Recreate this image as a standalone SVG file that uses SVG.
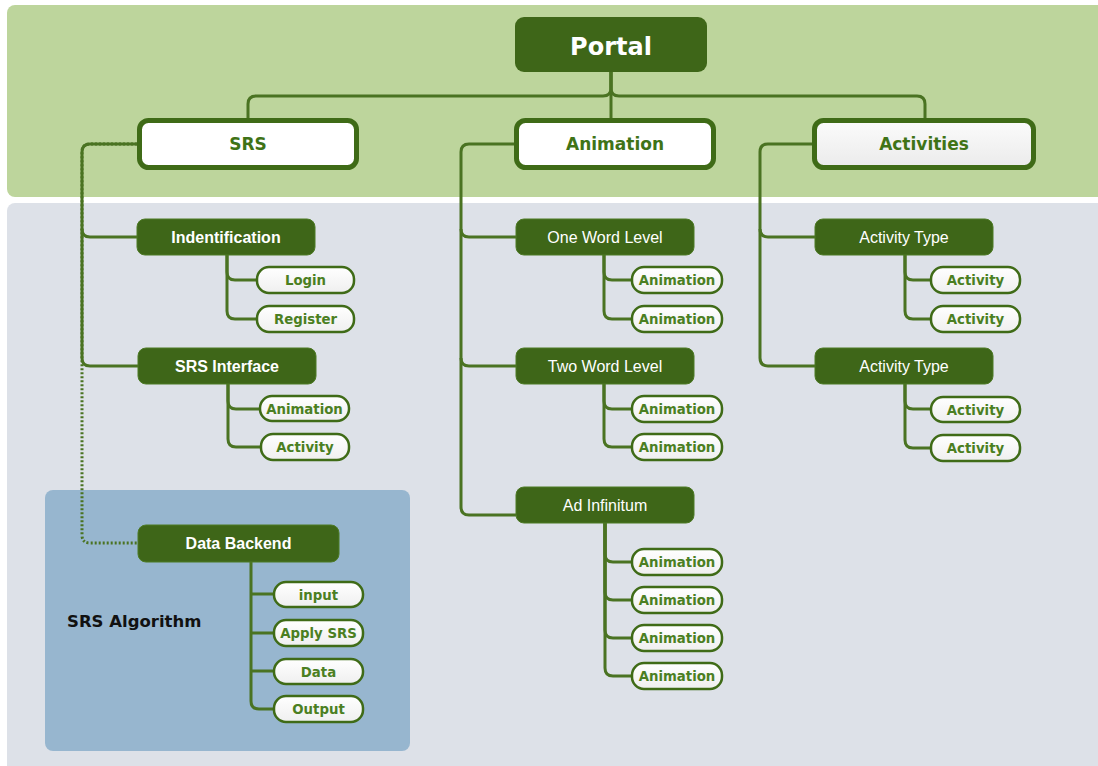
<svg xmlns="http://www.w3.org/2000/svg" width="1098" height="766" viewBox="0 0 1098 766">
  <defs>
    <linearGradient id="pillFill" x1="0" y1="0" x2="0" y2="1">
      <stop offset="0" stop-color="#ffffff"/>
      <stop offset="1" stop-color="#efefef"/>
    </linearGradient>
    <linearGradient id="greyFill" x1="0" y1="0" x2="0" y2="1">
      <stop offset="0" stop-color="#fbfbfb"/>
      <stop offset="1" stop-color="#ebebeb"/>
    </linearGradient>
    <style>
      .band-top { fill: #bdd59c; }
      .band-bottom { fill: #dde1e8; }
      .algo { fill: #97b6cf; }
      .root { fill: #3e6618; }
      .root-text { font-family: "DejaVu Sans", Verdana, sans-serif; font-weight: bold; font-size: 24px; fill: #ffffff; text-anchor: middle; }
      .branch { fill: #ffffff; stroke: #3f6b17; stroke-width: 5; }
      .branch-text { font-family: "DejaVu Sans", Verdana, sans-serif; font-weight: bold; font-size: 17px; fill: #3f7317; text-anchor: middle; }
      .topic { fill: #3e6618; stroke: #4d7a25; stroke-width: 1; }
      .topic-text { font-family: "Liberation Sans", Arial, sans-serif; font-size: 16px; fill: #ffffff; text-anchor: middle; }
      .bold { font-weight: bold; }
      .leaf { fill: url(#pillFill); stroke: #3f6b17; stroke-width: 2.5; }
      .leaf-text { font-family: "DejaVu Sans", Verdana, sans-serif; font-weight: bold; font-size: 13.3px; fill: #4b7f22; text-anchor: middle; }
      .label { font-family: "DejaVu Sans", Verdana, sans-serif; font-weight: bold; font-size: 16.5px; fill: #111111; }
      .link { fill: none; stroke: #4a7322; stroke-width: 3; }
      .link-dot { fill: none; stroke: #4a7322; stroke-width: 3; stroke-dasharray: 2 2; }
    </style>
  </defs>

  <!-- background bands -->
  <rect x="0" y="0" width="1098" height="766" fill="#ffffff"/>
  <rect class="band-top" x="7" y="5" width="1100" height="192" rx="8"/>
  <rect class="band-bottom" x="7" y="203" width="1100" height="570" rx="8"/>
  <rect class="algo" x="45" y="490" width="365" height="261" rx="8"/>
  <text class="label" x="67" y="627">SRS Algorithm</text>

  <!-- connectors -->
  <g id="connectors">
    <!-- Portal to the three branches -->
    <path class="link" d="M611,72 V88 Q611,96 603,96 H256 Q248,96 248,104 V118"/>
    <path class="link" d="M611,72 V88 Q611,96 619,96 H917 Q925,96 925,104 V118"/>
    <path class="link" d="M611,72 V118"/>

    <!-- SRS -->
    <path class="link-dot" d="M137,144 H90 Q82,144 82,152 V535 Q82,543 90,543 H138"/>
    <path class="link" d="M137,144 H90 Q82,144 82,152 V358 Q82,366 90,366 H138"/>
    <path class="link" d="M82,229 Q82,237 90,237 H137"/>
    <path class="link" d="M227,255 V272 Q227,280 235,280 H257"/>
    <path class="link" d="M227,255 V311 Q227,319 235,319 H257"/>
    <path class="link" d="M228,384 V401 Q228,409 236,409 H260"/>
    <path class="link" d="M228,384 V439 Q228,447 236,447 H261"/>

    <!-- Data Backend -->
    <path class="link" d="M251,562 V701 Q251,709 259,709 H274"/>
    <path class="link" d="M251,594 H274 M251,633 H274 M251,671 H274"/>

    <!-- Animation -->
    <path class="link" d="M514,144 H469 Q461,144 461,152 V507 Q461,515 469,515 H516"/>
    <path class="link" d="M461,229 Q461,237 469,237 H516"/>
    <path class="link" d="M461,358 Q461,366 469,366 H516"/>
    <path class="link" d="M604,255 V272 Q604,280 612,280 H632"/>
    <path class="link" d="M604,255 V311 Q604,319 612,319 H632"/>
    <path class="link" d="M604,384 V401 Q604,409 612,409 H632"/>
    <path class="link" d="M604,384 V439 Q604,447 612,447 H632"/>
    <path class="link" d="M605,523 V554 Q605,562 613,562 H632"/>
    <path class="link" d="M605,523 V592 Q605,600 613,600 H632"/>
    <path class="link" d="M605,523 V630 Q605,638 613,638 H632"/>
    <path class="link" d="M605,523 V668 Q605,676 613,676 H632"/>

    <!-- Activities -->
    <path class="link" d="M812,144 H768 Q760,144 760,152 V358 Q760,366 768,366 H815"/>
    <path class="link" d="M760,229 Q760,237 768,237 H815"/>
    <path class="link" d="M905,255 V272 Q905,280 913,280 H931"/>
    <path class="link" d="M905,255 V311 Q905,319 913,319 H931"/>
    <path class="link" d="M905,384 V401 Q905,409 913,409 H931"/>
    <path class="link" d="M905,384 V440 Q905,448 913,448 H931"/>
  </g>

  <!-- root -->
  <g id="portal">
    <rect class="root" x="515" y="17" width="192" height="55" rx="9"/>
    <text class="root-text" x="611" y="55">Portal</text>
  </g>

  <!-- main branches -->
  <g id="srs">
    <rect class="branch" x="139.5" y="120.5" width="217" height="47" rx="9"/>
    <text class="branch-text" x="248" y="150">SRS</text>
  </g>
  <g id="animation">
    <rect class="branch" x="516.5" y="120.5" width="197" height="47" rx="9"/>
    <text class="branch-text" x="615" y="150">Animation</text>
  </g>
  <g id="activities">
    <rect class="branch" x="814.5" y="120.5" width="219" height="47" rx="9" style="fill:url(#greyFill)"/>
    <text class="branch-text" x="924" y="150">Activities</text>
  </g>

  <!-- SRS topics -->
  <g id="indentification">
    <rect class="topic" x="137" y="219" width="178" height="36" rx="8"/>
    <text class="topic-text bold" x="226" y="242.5">Indentification</text>
  </g>
  <g id="login">
    <rect class="leaf" x="257" y="267" width="97" height="26" rx="12"/>
    <text class="leaf-text" x="305.5" y="285">Login</text>
  </g>
  <g id="register">
    <rect class="leaf" x="257" y="306" width="97" height="26" rx="12"/>
    <text class="leaf-text" x="305.5" y="324">Register</text>
  </g>
  <g id="srs-interface">
    <rect class="topic" x="138" y="348" width="178" height="36" rx="8"/>
    <text class="topic-text bold" x="227" y="371.5">SRS Interface</text>
  </g>
  <g id="srs-animation">
    <rect class="leaf" x="260" y="396" width="89" height="25" rx="12"/>
    <text class="leaf-text" x="304.5" y="413.5">Animation</text>
  </g>
  <g id="srs-activity">
    <rect class="leaf" x="261" y="434" width="88" height="26" rx="12"/>
    <text class="leaf-text" x="305" y="452">Activity</text>
  </g>

  <!-- SRS algorithm -->
  <g id="data-backend">
    <rect class="topic" x="138" y="525" width="201" height="37" rx="8"/>
    <text class="topic-text bold" x="238.5" y="549">Data Backend</text>
  </g>
  <g id="input">
    <rect class="leaf" x="274" y="582" width="89" height="25" rx="12"/>
    <text class="leaf-text" x="318.5" y="599.5">input</text>
  </g>
  <g id="apply-srs">
    <rect class="leaf" x="274" y="620" width="89" height="26" rx="12"/>
    <text class="leaf-text" x="318.5" y="638">Apply SRS</text>
  </g>
  <g id="data">
    <rect class="leaf" x="274" y="659" width="89" height="25" rx="12"/>
    <text class="leaf-text" x="318.5" y="676.5">Data</text>
  </g>
  <g id="output">
    <rect class="leaf" x="274" y="696" width="89" height="26" rx="12"/>
    <text class="leaf-text" x="318.5" y="714">Output</text>
  </g>

  <!-- Animation topics -->
  <g id="one-word-level">
    <rect class="topic" x="516" y="219" width="178" height="36" rx="8"/>
    <text class="topic-text" x="605" y="242.5">One Word Level</text>
  </g>
  <g id="one-word-animation-1">
    <rect class="leaf" x="632" y="267" width="90" height="26" rx="12"/>
    <text class="leaf-text" x="677" y="285">Animation</text>
  </g>
  <g id="one-word-animation-2">
    <rect class="leaf" x="632" y="306" width="90" height="26" rx="12"/>
    <text class="leaf-text" x="677" y="324">Animation</text>
  </g>
  <g id="two-word-level">
    <rect class="topic" x="516" y="348" width="178" height="36" rx="8"/>
    <text class="topic-text" x="605" y="371.5">Two Word Level</text>
  </g>
  <g id="two-word-animation-1">
    <rect class="leaf" x="632" y="396" width="90" height="26" rx="12"/>
    <text class="leaf-text" x="677" y="414">Animation</text>
  </g>
  <g id="two-word-animation-2">
    <rect class="leaf" x="632" y="434" width="90" height="26" rx="12"/>
    <text class="leaf-text" x="677" y="452">Animation</text>
  </g>
  <g id="ad-infinitum">
    <rect class="topic" x="516" y="487" width="178" height="36" rx="8"/>
    <text class="topic-text" x="605" y="510.5">Ad Infinitum</text>
  </g>
  <g id="ad-animation-1">
    <rect class="leaf" x="632" y="549" width="90" height="26" rx="12"/>
    <text class="leaf-text" x="677" y="567">Animation</text>
  </g>
  <g id="ad-animation-2">
    <rect class="leaf" x="632" y="587" width="90" height="26" rx="12"/>
    <text class="leaf-text" x="677" y="605">Animation</text>
  </g>
  <g id="ad-animation-3">
    <rect class="leaf" x="632" y="625" width="90" height="26" rx="12"/>
    <text class="leaf-text" x="677" y="643">Animation</text>
  </g>
  <g id="ad-animation-4">
    <rect class="leaf" x="632" y="663" width="90" height="26" rx="12"/>
    <text class="leaf-text" x="677" y="681">Animation</text>
  </g>

  <!-- Activities topics -->
  <g id="activity-type-1">
    <rect class="topic" x="815" y="219" width="178" height="36" rx="8"/>
    <text class="topic-text" x="904" y="242.5">Activity Type</text>
  </g>
  <g id="activity-1a">
    <rect class="leaf" x="931" y="267" width="89" height="26" rx="12"/>
    <text class="leaf-text" x="975.5" y="285">Activity</text>
  </g>
  <g id="activity-1b">
    <rect class="leaf" x="931" y="306" width="89" height="26" rx="12"/>
    <text class="leaf-text" x="975.5" y="324">Activity</text>
  </g>
  <g id="activity-type-2">
    <rect class="topic" x="815" y="348" width="178" height="36" rx="8"/>
    <text class="topic-text" x="904" y="371.5">Activity Type</text>
  </g>
  <g id="activity-2a">
    <rect class="leaf" x="931" y="397" width="89" height="25" rx="12"/>
    <text class="leaf-text" x="975.5" y="414.5">Activity</text>
  </g>
  <g id="activity-2b">
    <rect class="leaf" x="931" y="435" width="89" height="26" rx="12"/>
    <text class="leaf-text" x="975.5" y="453">Activity</text>
  </g>
</svg>
